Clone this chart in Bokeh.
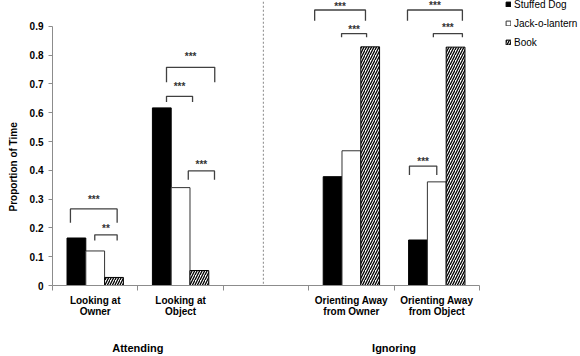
from bokeh.plotting import figure
from bokeh.models import (Range1d, FixedTicker, LinearAxis, Title, Legend,
                          LegendItem, Arrow, ColumnDataSource)
from bokeh.core.properties import value
from bokeh.embed import file_html
from bokeh.resources import INLINE

# ---------------- data ----------------
categories = ["Looking at\nOwner", "Looking at\nObject", "",
              "Orienting Away\nfrom Owner", "Orienting Away\nfrom Object"]
group_labels = ["Attending", "Ignoring"]
group_centers = [1.0, 4.0]
series_names = ["Stuffed Dog", "Jack-o-lantern", "Book"]
stuffed_dog = [0.165, 0.617, None, 0.378, 0.158]
jack_o_lantern = [0.12, 0.34, None, 0.468, 0.36]
book = [0.028, 0.052, None, 0.829, 0.828]
y_ticks = [0, 0.1, 0.2, 0.3, 0.4, 0.5, 0.6, 0.7, 0.8, 0.9]

# significance brackets (category, left, right within category, top, leg end, label level, label)
br_cat = [0, 0, 1, 1, 1, 3, 3, 4, 4, 4]
br_left = [0.21, 0.495, 0.335, 0.335, 0.59, 0.07, 0.385, 0.157, 0.46, 0.18]
br_right = [0.757, 0.757, 0.90, 0.64, 0.897, 0.665, 0.678, 0.80, 0.80, 0.50]
br_top = [0.266, 0.176, 0.758, 0.657, 0.398, 0.957, 0.875, 0.957, 0.875, 0.415]
br_leg = [0.218, 0.156, 0.706, 0.637, 0.367, 0.920, 0.862, 0.920, 0.862, 0.384]
br_text_y = [0.304, 0.205, 0.803, 0.699, 0.426, 0.976, 0.896, 0.979, 0.903, 0.439]
br_text = ["***", "**", "***", "***", "***", "***", "***", "***", "***", "***"]

FONT = "Liberation Sans"
W, H = 580, 356
LEFT, BOTTOM = 52, 70
BAR_W = 0.22
offsets = [-0.22, 0.0, 0.22]

p = figure(width=W, height=H, x_range=Range1d(0, 6.183), y_range=Range1d(0, 0.99),
           output_backend="svg", toolbar_location=None,
           x_axis_type=None, y_axis_type=None,
           min_border_left=LEFT, min_border_right=0, min_border_top=0,
           min_border_bottom=BOTTOM)
p.outline_line_color = None
p.xgrid.visible = False
p.ygrid.visible = False
p.background_fill_color = "white"

# ---------------- bars ----------------
renderers = []
all_series = [stuffed_dog, jack_o_lantern, book]
styles = [dict(fill_color="black", line_color="black"),
          dict(fill_color="white", line_color="#333333"),
          dict(fill_color="white", line_color="black", hatch_pattern="/",
               hatch_color="black", hatch_scale=5, hatch_weight=1.3)]
for vals, off, st in zip(all_series, offsets, styles):
    xs = [i + 0.5 + off for i, v in enumerate(vals) if v is not None]
    ys = [v for v in vals if v is not None]
    src = ColumnDataSource(dict(x=xs, top=ys))
    r = p.vbar(x="x", top="top", bottom=0, width=BAR_W, source=src,
               line_width=1, **st)
    renderers.append(r)

# ---------------- brackets ----------------
bx, by, tx = [], [], []
for c, l, r_, t, g in zip(br_cat, br_left, br_right, br_top, br_leg):
    bx.append([c + l, c + l, c + r_, c + r_])
    by.append([g, t, t, g])
    tx.append(c + (l + r_) / 2)
p.multi_line(xs=bx, ys=by, line_color="#404040", line_width=1.3)
p.text(x=tx, y=br_text_y, text=br_text, text_align="center", text_baseline="middle",
       text_font=value(FONT), text_font_size="10px", text_font_style="bold",
       text_color="#333333", y_offset=2)

# ---------------- axes ----------------
yaxis = LinearAxis(bounds=(0, 0.9), ticker=FixedTicker(ticks=y_ticks, minor_ticks=[]),
                   major_label_overrides={0: "0"})
yaxis.axis_line_color = "#8c8c8c"
yaxis.major_tick_line_color = "#8c8c8c"
yaxis.major_tick_in = 0
yaxis.major_tick_out = 4
yaxis.minor_tick_line_color = None
yaxis.major_label_standoff = 5
yaxis.major_label_text_font = FONT
yaxis.major_label_text_font_size = "10px"
yaxis.major_label_text_font_style = "bold"
yaxis.major_label_text_color = "black"
p.add_layout(yaxis, "left")

p.add_layout(Title(text="Proportion of Time", align="left", offset=74,
                   vertical_align="top", standoff=12,
                   text_font=FONT, text_font_size="10px", text_font_style="bold",
                   text_color="black"), "left")

cat_ticks = [i + 0.5 for i, c in enumerate(categories) if c]
overrides = {i + 0.5: c for i, c in enumerate(categories) if c}
xaxis = LinearAxis(bounds=(0, 5),
                   ticker=FixedTicker(ticks=cat_ticks,
                                      minor_ticks=list(range(len(categories) + 1))),
                   major_label_overrides=overrides)
xaxis.axis_line_color = "#8c8c8c"
xaxis.major_tick_line_color = None
xaxis.minor_tick_line_color = "#8c8c8c"
xaxis.minor_tick_in = 0
xaxis.minor_tick_out = 5
xaxis.major_label_standoff = 3
xaxis.major_label_text_font = FONT
xaxis.major_label_text_font_size = "10px"
xaxis.major_label_text_font_style = "bold"
xaxis.major_label_text_line_height = 1.05
xaxis.major_label_text_color = "black"
p.add_layout(xaxis, "below")

gaxis = LinearAxis(ticker=FixedTicker(ticks=group_centers, minor_ticks=[]),
                   major_label_overrides=dict(zip(group_centers, group_labels)))
gaxis.axis_line_color = None
gaxis.major_tick_line_color = None
gaxis.minor_tick_line_color = None
gaxis.major_label_standoff = 15
gaxis.major_label_text_font = FONT
gaxis.major_label_text_font_size = "11px"
gaxis.major_label_text_font_style = "bold"
gaxis.major_label_text_color = "black"
p.add_layout(gaxis, "below")

# divider between Attending and Ignoring
p.add_layout(Arrow(end=None, x_start=2.47, y_start=-0.3, x_end=2.47, y_end=1.0,
                   line_color="#999999", line_width=1.2, line_dash="2 2"))

# ---------------- legend ----------------
legend = Legend(items=[LegendItem(label=n, renderers=[r]) for n, r in zip(series_names, renderers)],
                location=(453, 237), orientation="vertical", padding=0, margin=0,
                spacing=7, glyph_width=6, glyph_height=6, label_standoff=3,
                label_height=12, label_text_font=FONT, label_text_font_size="10px",
                label_text_color="black", border_line_color=None,
                background_fill_alpha=0)
p.add_layout(legend)

open("out.html", "w").write(file_html(p, INLINE))
